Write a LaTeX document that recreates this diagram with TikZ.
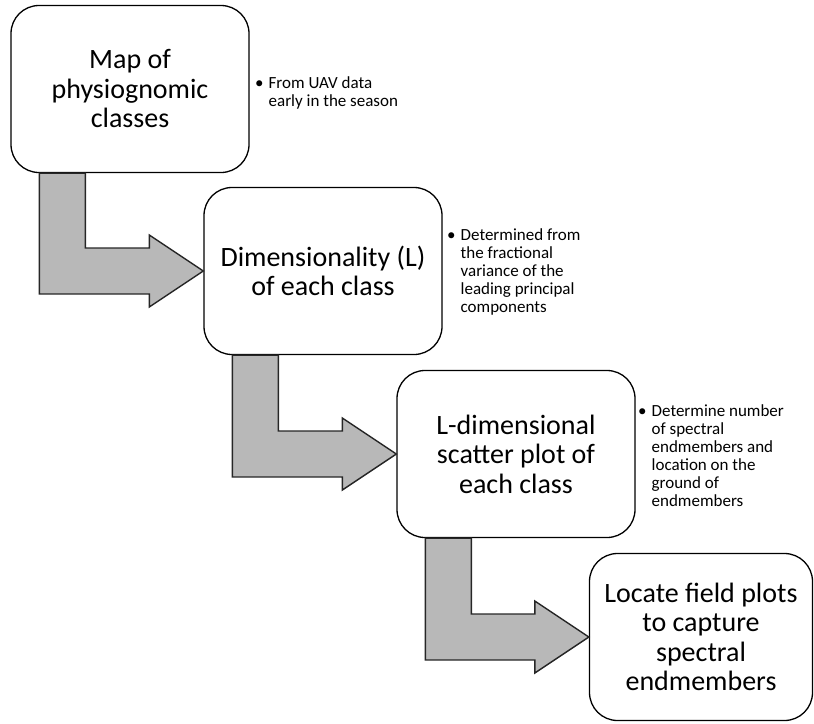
\documentclass[tikz,border=0pt]{standalone}
\usepackage{fontspec}
\setmainfont{Carlito}
\usetikzlibrary{calc}

\begin{document}
\begin{tikzpicture}[x=1pt, y=-1pt,
    stage/.style={draw, rounded corners=28pt, line width=1.3pt, fill=white, minimum width=238pt, minimum height=167pt, align=center, font=\fontsize{28}{29.5}\selectfont},
    note/.style={anchor=base west, inner sep=0pt, font=\fontsize{17}{18}\selectfont},
    elbow/.style={fill=black!28, draw=black!85, line width=1.4pt, line join=miter}
]
\useasboundingbox (0,0) rectangle (814,723);

\node[stage] (map) at (130,89) {Map of\\physiognomic\\classes};
\node[stage] (dim) at (323,271) {Dimensionality (L)\\of each class};
\node[stage] (scat) at (516,454) {L-dimensional\\scatter plot of\\each class};
\node[stage, minimum width=223pt] (plots) at (701,637) {Locate field plots\\to capture\\spectral\\endmembers};

\node[note] (n1) at (255,88) {\begin{tabular}[t]{@{}l@{\hspace{5pt}}l@{}}\textbullet & From UAV data\\ & early in the season\end{tabular}};
\node[note] (n2) at (447,240) {\begin{tabular}[t]{@{}l@{\hspace{5pt}}l@{}}\textbullet & Determined from\\ & the fractional\\ & variance of the\\ & leading principal\\ & components\end{tabular}};
\node[note] (n3) at (638,416) {\begin{tabular}[t]{@{}l@{\hspace{5pt}}l@{}}\textbullet & Determine number\\ & of spectral\\ & endmembers and\\ & location on the\\ & ground of\\ & endmembers\end{tabular}};

% bent block arrows between the stages
\draw[elbow] let \p1=(map.south west), \p2=(dim.west) in
  (\x1+29pt,\y1) -- (\x1+29pt,\y2-23pt) -- (\x2-54pt,\y2-23pt) -- (\x2-54pt,\y2-36pt)
  -- (\p2) -- (\x2-54pt,\y2+36pt) -- (\x2-54pt,\y2+23pt) -- (\x1+75pt,\y2+23pt) -- (\x1+75pt,\y1) -- cycle;
\draw[elbow] let \p1=(dim.south west), \p2=(scat.west) in
  (\x1+29pt,\y1) -- (\x1+29pt,\y2-23pt) -- (\x2-54pt,\y2-23pt) -- (\x2-54pt,\y2-36pt)
  -- (\p2) -- (\x2-54pt,\y2+36pt) -- (\x2-54pt,\y2+23pt) -- (\x1+75pt,\y2+23pt) -- (\x1+75pt,\y1) -- cycle;
\draw[elbow] let \p1=(scat.south west), \p2=(plots.west) in
  (\x1+29pt,\y1) -- (\x1+29pt,\y2-23pt) -- (\x2-54pt,\y2-23pt) -- (\x2-54pt,\y2-36pt)
  -- (\p2) -- (\x2-54pt,\y2+36pt) -- (\x2-54pt,\y2+23pt) -- (\x1+75pt,\y2+23pt) -- (\x1+75pt,\y1) -- cycle;
\end{tikzpicture}
\end{document}
